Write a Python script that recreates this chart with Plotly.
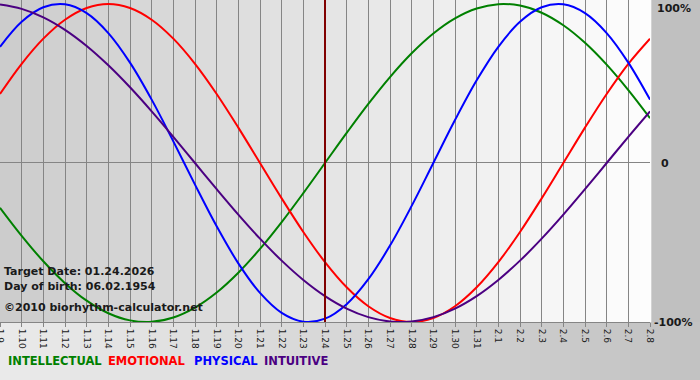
import plotly.graph_objects as go

# ---- data ----
dates = ["1.9", "1.10", "1.11", "1.12", "1.13", "1.14", "1.15", "1.16", "1.17", "1.18",
         "1.19", "1.20", "1.21", "1.22", "1.23", "1.24", "1.25", "1.26", "1.27", "1.28",
         "1.29", "1.30", "1.31", "2.1", "2.2", "2.3", "2.4", "2.5", "2.6", "2.7", "2.8"]

intellectual = [-0.2817, -0.4582, -0.6182, -0.7557, -0.8660, -0.9450, -0.9898, -0.9989,
                -0.9718, -0.9096, -0.8146, -0.6901, -0.5406, -0.3717, -0.1893, 0.0,
                0.1893, 0.3717, 0.5406, 0.6901, 0.8146, 0.9096, 0.9718, 0.9989,
                0.9898, 0.9450, 0.8660, 0.7557, 0.6182, 0.4582, 0.2817]

emotional = [0.4339, 0.6235, 0.7818, 0.9010, 0.9749, 1.0, 0.9749, 0.9010,
             0.7818, 0.6235, 0.4339, 0.2225, 0.0, -0.2225, -0.4339, -0.6235,
             -0.7818, -0.9010, -0.9749, -1.0, -0.9749, -0.9010, -0.7818, -0.6235,
             -0.4339, -0.2225, 0.0, 0.2225, 0.4339, 0.6235, 0.7818]

physical = [0.7308, 0.8879, 0.9791, 0.9977, 0.9423, 0.8170, 0.6311, 0.3984,
            0.1362, -0.1362, -0.3984, -0.6311, -0.8170, -0.9423, -0.9977, -0.9791,
            -0.8879, -0.7308, -0.5196, -0.2698, 0.0, 0.2698, 0.5196, 0.7308,
            0.8879, 0.9791, 0.9977, 0.9423, 0.8170, 0.6311, 0.3984]

intuitive = [0.9966, 0.9694, 0.9158, 0.8372, 0.7357, 0.6142, 0.4759, 0.3247,
             0.1646, 0.0, -0.1646, -0.3247, -0.4759, -0.6142, -0.7357, -0.8372,
             -0.9158, -0.9694, -0.9966, -0.9966, -0.9694, -0.9158, -0.8372, -0.7357,
             -0.6142, -0.4759, -0.3247, -0.1646, 0.0, 0.1646, 0.3247]

target_date = "1.24"
series = [("INTELLECTUAL", intellectual, "#008000"),
          ("EMOTIONAL", emotional, "#ff0000"),
          ("PHYSICAL", physical, "#0000ff"),
          ("INTUITIVE", intuitive, "#4b0082")]

# ---- layout geometry ----
W, H = 700, 380
ML, MR, MT, MB = 0, 50, 0, 58
PW, PH = W - ML - MR, H - MT - MB

def px(xp):
    return (xp - ML) / PW

def py(yp):
    return (H - MB - yp) / PH

fig = go.Figure()
for name, vals, col in series:
    fig.add_trace(go.Scatter(x=dates, y=vals, mode="lines", name=name,
                             line=dict(color=col, width=2, shape="spline", smoothing=1.0),
                             hoverinfo="skip"))

shapes = []
# plot-area gradient (dark left -> white right)
N = 65
for i in range(N):
    t = i / (N - 1)
    c = int(round(0xcc + (0xfd - 0xcc) * t))
    shapes.append(dict(type="rect", xref="paper", yref="paper",
                       x0=i / N, x1=(i + 1) / N + 0.002, y0=0, y1=1,
                       fillcolor=f"rgb({c},{c},{c})", line_width=0, layer="below"))
# bottom band gradient (light left -> grey right)
M = 70
for i in range(M):
    t = i / (M - 1)
    c = int(round(0xea + (0xc2 - 0xea) * t))
    x0 = i * W / M
    x1 = (i + 1) * W / M + 1
    shapes.append(dict(type="rect", xref="paper", yref="paper",
                       x0=px(x0), x1=px(x1), y0=py(H), y1=0,
                       fillcolor=f"rgb({c},{c},{c})", line_width=0, layer="below"))
# target date line
ti = dates.index(target_date)
shapes.append(dict(type="line", xref="x", yref="paper", x0=ti, x1=ti, y0=0, y1=1,
                   line=dict(color="#800000", width=2), layer="above"))

lab_font = dict(family="DejaVu Sans", size=11, color="#1a1a1a", weight="bold")
annotations = [
    dict(text="100%", x=px(655), y=py(8), xref="paper", yref="paper",
         xanchor="left", yanchor="middle", showarrow=False, font=lab_font),
    dict(text="0", x=px(659), y=py(163), xref="paper", yref="paper",
         xanchor="left", yanchor="middle", showarrow=False, font=lab_font),
    dict(text="-100%", x=px(652), y=py(322), xref="paper", yref="paper",
         xanchor="left", yanchor="middle", showarrow=False, font=lab_font),
    dict(text="Target Date: 01.24.2026", x=px(2), y=py(271), xref="paper", yref="paper",
         xanchor="left", yanchor="middle", showarrow=False, font=lab_font),
    dict(text="Day of birth: 06.02.1954", x=px(2), y=py(286), xref="paper", yref="paper",
         xanchor="left", yanchor="middle", showarrow=False, font=lab_font),
    dict(text="©2010 biorhythm-calculator.net", x=px(2), y=py(307), xref="paper", yref="paper",
         xanchor="left", yanchor="middle", showarrow=False, font=lab_font),
]
leg_x = [6, 106, 192, 262]
for (name, vals, col), lx in zip(series, leg_x):
    annotations.append(dict(text=name, x=px(lx), y=py(361), xref="paper", yref="paper",
                            xanchor="left", yanchor="middle", showarrow=False,
                            font=dict(family="DejaVu Sans", size=11.5, color=col, weight="bold")))

fig.update_layout(
    width=W, height=H,
    margin=dict(l=ML, r=MR, t=MT, b=MB, pad=0, autoexpand=False),
    paper_bgcolor="#c0c0c0",
    plot_bgcolor="rgba(0,0,0,0)",
    showlegend=False,
    shapes=shapes,
    annotations=annotations,
    xaxis=dict(type="category", range=[0, len(dates) - 1], showgrid=True,
               gridcolor="#858585", gridwidth=1, tickangle=90,
               ticks="outside", ticklen=4, tickcolor="#858585",
               tickfont=dict(family="DejaVu Sans", size=9, color="#1a1a1a"),
               showline=True, linecolor="#858585", linewidth=1, mirror=True,
               zeroline=False, fixedrange=True, automargin=False),
    yaxis=dict(range=[-1.0, 1.025], showgrid=False, showticklabels=False,
               zeroline=True, zerolinecolor="#858585", zerolinewidth=1,
               showline=False, fixedrange=True, automargin=False),
)

fig.write_html("out.html", config={"displayModeBar": False},
               post_script="document.body.style.margin='0';document.body.style.overflow='hidden';")
